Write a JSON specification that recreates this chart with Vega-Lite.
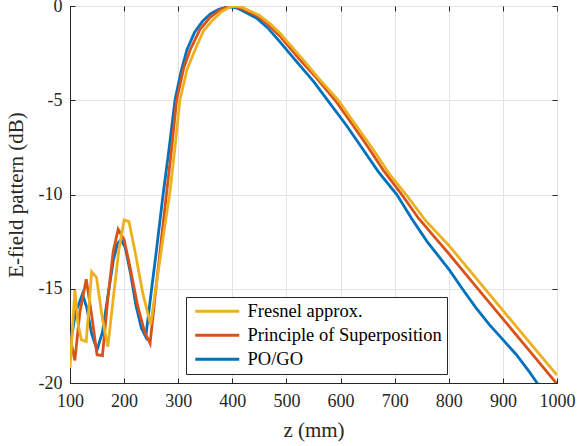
{
  "$schema": "https://vega.github.io/schema/vega-lite/v6.json",
  "width": 487,
  "height": 377,
  "autosize": {"type": "none"},
  "padding": {"left": 70, "top": 6, "right": 22, "bottom": 63},
  "background": "white",
  "config": {
    "view": {"stroke": "#262626", "strokeWidth": 1},
    "font": "Times New Roman",
    "axis": {
      "labelFont": "Times New Roman",
      "titleFont": "Times New Roman",
      "labelFontSize": 18,
      "titleFontSize": 21,
      "titleFontWeight": "normal",
      "labelColor": "#262626",
      "titleColor": "#262626",
      "domainColor": "#262626",
      "tickColor": "#262626",
      "gridColor": "#e3e3e3",
      "gridWidth": 1,
      "labelFlush": false,
      "labelOverlap": false
    },
    "legend": {"labelFont": "Times New Roman"}
  },
  "resolve": {"axis": {"x": "independent", "y": "independent"}},
  "data": {
    "values": [
      {"series": "PO/GO", "z": 100, "v": -18.07},
      {"series": "PO/GO", "z": 110, "v": -16.3},
      {"series": "PO/GO", "z": 123, "v": -15.28},
      {"series": "PO/GO", "z": 131, "v": -16.0},
      {"series": "PO/GO", "z": 140, "v": -17.4},
      {"series": "PO/GO", "z": 150, "v": -18.25},
      {"series": "PO/GO", "z": 160, "v": -17.3},
      {"series": "PO/GO", "z": 170, "v": -15.4},
      {"series": "PO/GO", "z": 180, "v": -13.5},
      {"series": "PO/GO", "z": 188, "v": -12.6},
      {"series": "PO/GO", "z": 194, "v": -12.4},
      {"series": "PO/GO", "z": 202, "v": -12.8},
      {"series": "PO/GO", "z": 212, "v": -14.2},
      {"series": "PO/GO", "z": 222, "v": -15.9},
      {"series": "PO/GO", "z": 232, "v": -17.1},
      {"series": "PO/GO", "z": 240, "v": -17.55},
      {"series": "PO/GO", "z": 250, "v": -15.2},
      {"series": "PO/GO", "z": 260, "v": -12.9},
      {"series": "PO/GO", "z": 272, "v": -10.0},
      {"series": "PO/GO", "z": 283, "v": -7.6},
      {"series": "PO/GO", "z": 294, "v": -5.0},
      {"series": "PO/GO", "z": 305, "v": -3.5},
      {"series": "PO/GO", "z": 316, "v": -2.33},
      {"series": "PO/GO", "z": 330, "v": -1.4},
      {"series": "PO/GO", "z": 345, "v": -0.8},
      {"series": "PO/GO", "z": 360, "v": -0.4},
      {"series": "PO/GO", "z": 375, "v": -0.17},
      {"series": "PO/GO", "z": 390, "v": -0.06},
      {"series": "PO/GO", "z": 398, "v": -0.05},
      {"series": "PO/GO", "z": 410, "v": -0.12},
      {"series": "PO/GO", "z": 425, "v": -0.35},
      {"series": "PO/GO", "z": 445, "v": -0.65},
      {"series": "PO/GO", "z": 465, "v": -1.15},
      {"series": "PO/GO", "z": 488, "v": -1.9},
      {"series": "PO/GO", "z": 516, "v": -2.86},
      {"series": "PO/GO", "z": 550, "v": -4.0},
      {"series": "PO/GO", "z": 580, "v": -5.15},
      {"series": "PO/GO", "z": 610, "v": -6.3},
      {"series": "PO/GO", "z": 640, "v": -7.55},
      {"series": "PO/GO", "z": 670, "v": -8.8},
      {"series": "PO/GO", "z": 704, "v": -10.0},
      {"series": "PO/GO", "z": 731, "v": -11.26},
      {"series": "PO/GO", "z": 760, "v": -12.5},
      {"series": "PO/GO", "z": 801, "v": -14.0},
      {"series": "PO/GO", "z": 825, "v": -15.0},
      {"series": "PO/GO", "z": 850, "v": -16.0},
      {"series": "PO/GO", "z": 875, "v": -16.9},
      {"series": "PO/GO", "z": 900, "v": -17.7},
      {"series": "PO/GO", "z": 925, "v": -18.5},
      {"series": "PO/GO", "z": 950, "v": -19.45},
      {"series": "PO/GO", "z": 962, "v": -19.95},
      {"series": "PO/GO", "z": 975, "v": -20.5},
      {"series": "Principle of Superposition", "z": 100, "v": -17.6},
      {"series": "Principle of Superposition", "z": 109, "v": -18.8},
      {"series": "Principle of Superposition", "z": 118, "v": -16.3},
      {"series": "Principle of Superposition", "z": 130, "v": -14.5},
      {"series": "Principle of Superposition", "z": 140, "v": -16.4},
      {"series": "Principle of Superposition", "z": 150, "v": -18.5},
      {"series": "Principle of Superposition", "z": 160, "v": -18.55},
      {"series": "Principle of Superposition", "z": 170, "v": -15.5},
      {"series": "Principle of Superposition", "z": 180, "v": -13.0},
      {"series": "Principle of Superposition", "z": 189, "v": -11.85},
      {"series": "Principle of Superposition", "z": 200, "v": -12.4},
      {"series": "Principle of Superposition", "z": 212, "v": -14.0},
      {"series": "Principle of Superposition", "z": 225, "v": -15.9},
      {"series": "Principle of Superposition", "z": 238, "v": -17.3},
      {"series": "Principle of Superposition", "z": 248, "v": -17.9},
      {"series": "Principle of Superposition", "z": 258, "v": -15.2},
      {"series": "Principle of Superposition", "z": 268, "v": -12.6},
      {"series": "Principle of Superposition", "z": 279, "v": -9.8},
      {"series": "Principle of Superposition", "z": 288, "v": -7.5},
      {"series": "Principle of Superposition", "z": 297, "v": -5.0},
      {"series": "Principle of Superposition", "z": 310, "v": -3.3},
      {"series": "Principle of Superposition", "z": 322, "v": -2.33},
      {"series": "Principle of Superposition", "z": 340, "v": -1.25},
      {"series": "Principle of Superposition", "z": 359, "v": -0.6},
      {"series": "Principle of Superposition", "z": 375, "v": -0.25},
      {"series": "Principle of Superposition", "z": 390, "v": -0.06},
      {"series": "Principle of Superposition", "z": 402, "v": -0.02},
      {"series": "Principle of Superposition", "z": 415, "v": -0.1},
      {"series": "Principle of Superposition", "z": 430, "v": -0.3},
      {"series": "Principle of Superposition", "z": 448, "v": -0.55},
      {"series": "Principle of Superposition", "z": 465, "v": -0.95},
      {"series": "Principle of Superposition", "z": 488, "v": -1.6},
      {"series": "Principle of Superposition", "z": 525, "v": -2.86},
      {"series": "Principle of Superposition", "z": 555, "v": -3.8},
      {"series": "Principle of Superposition", "z": 590, "v": -5.0},
      {"series": "Principle of Superposition", "z": 620, "v": -6.2},
      {"series": "Principle of Superposition", "z": 650, "v": -7.45},
      {"series": "Principle of Superposition", "z": 680, "v": -8.75},
      {"series": "Principle of Superposition", "z": 713, "v": -10.0},
      {"series": "Principle of Superposition", "z": 744, "v": -11.26},
      {"series": "Principle of Superposition", "z": 775, "v": -12.3},
      {"series": "Principle of Superposition", "z": 801, "v": -13.17},
      {"series": "Principle of Superposition", "z": 850, "v": -14.87},
      {"series": "Principle of Superposition", "z": 900, "v": -16.6},
      {"series": "Principle of Superposition", "z": 950, "v": -18.32},
      {"series": "Principle of Superposition", "z": 1000, "v": -20.05},
      {"series": "Fresnel approx.", "z": 100, "v": -19.2},
      {"series": "Fresnel approx.", "z": 109, "v": -15.07},
      {"series": "Fresnel approx.", "z": 115, "v": -16.9},
      {"series": "Fresnel approx.", "z": 121, "v": -17.7},
      {"series": "Fresnel approx.", "z": 130, "v": -17.8},
      {"series": "Fresnel approx.", "z": 140, "v": -14.1},
      {"series": "Fresnel approx.", "z": 149, "v": -14.4},
      {"series": "Fresnel approx.", "z": 160, "v": -16.6},
      {"series": "Fresnel approx.", "z": 170, "v": -18.07},
      {"series": "Fresnel approx.", "z": 180, "v": -15.5},
      {"series": "Fresnel approx.", "z": 190, "v": -13.0},
      {"series": "Fresnel approx.", "z": 200, "v": -11.35},
      {"series": "Fresnel approx.", "z": 209, "v": -11.44},
      {"series": "Fresnel approx.", "z": 220, "v": -13.0},
      {"series": "Fresnel approx.", "z": 235, "v": -15.3},
      {"series": "Fresnel approx.", "z": 249, "v": -16.9},
      {"series": "Fresnel approx.", "z": 260, "v": -14.7},
      {"series": "Fresnel approx.", "z": 272, "v": -12.3},
      {"series": "Fresnel approx.", "z": 285, "v": -9.8},
      {"series": "Fresnel approx.", "z": 294, "v": -7.5},
      {"series": "Fresnel approx.", "z": 303, "v": -5.0},
      {"series": "Fresnel approx.", "z": 316, "v": -3.4},
      {"series": "Fresnel approx.", "z": 331, "v": -2.33},
      {"series": "Fresnel approx.", "z": 347, "v": -1.3},
      {"series": "Fresnel approx.", "z": 364, "v": -0.74},
      {"series": "Fresnel approx.", "z": 380, "v": -0.3},
      {"series": "Fresnel approx.", "z": 395, "v": -0.06},
      {"series": "Fresnel approx.", "z": 405, "v": -0.01},
      {"series": "Fresnel approx.", "z": 418, "v": -0.06},
      {"series": "Fresnel approx.", "z": 432, "v": -0.25},
      {"series": "Fresnel approx.", "z": 450, "v": -0.5},
      {"series": "Fresnel approx.", "z": 470, "v": -0.95},
      {"series": "Fresnel approx.", "z": 488, "v": -1.45},
      {"series": "Fresnel approx.", "z": 531, "v": -2.86},
      {"series": "Fresnel approx.", "z": 560, "v": -3.85},
      {"series": "Fresnel approx.", "z": 596, "v": -5.0},
      {"series": "Fresnel approx.", "z": 630, "v": -6.4},
      {"series": "Fresnel approx.", "z": 660, "v": -7.6},
      {"series": "Fresnel approx.", "z": 690, "v": -8.9},
      {"series": "Fresnel approx.", "z": 721, "v": -10.0},
      {"series": "Fresnel approx.", "z": 756, "v": -11.35},
      {"series": "Fresnel approx.", "z": 801, "v": -12.73},
      {"series": "Fresnel approx.", "z": 850, "v": -14.42},
      {"series": "Fresnel approx.", "z": 900, "v": -16.15},
      {"series": "Fresnel approx.", "z": 950, "v": -17.87},
      {"series": "Fresnel approx.", "z": 1000, "v": -19.58}
    ]
  },
  "layer": [
    {
      "mark": {"type": "line", "strokeWidth": 2.8, "clip": true},
      "encoding": {
        "x": {
          "field": "z", "type": "quantitative",
          "scale": {"domain": [100, 1000], "nice": false},
          "axis": {
            "values": [100, 200, 300, 400, 500, 600, 700, 800, 900, 1000],
            "labelExpr": "toString(datum.value)",
            "labelFont": "Times New Roman",
            "title": "z (mm)", "tickSize": -5, "labelPadding": 14,
            "titleX": 243.5, "titleY": 47, "titleBaseline": "middle"
          }
        },
        "y": {
          "field": "v", "type": "quantitative",
          "scale": {"domain": [-20, 0], "nice": false},
          "axis": {
            "values": [-20, -15, -10, -5, 0],
            "labelExpr": "toString(datum.value)",
            "labelFont": "Times New Roman",
            "title": "E-field pattern (dB)", "tickSize": -5, "labelPadding": 13,
            "titleX": -54, "titleY": 188.5, "titleBaseline": "middle", "titleAlign": "center", "titleAngle": -90
          }
        },
        "color": {
          "field": "series", "type": "nominal",
          "scale": {
            "domain": ["Fresnel approx.", "Principle of Superposition", "PO/GO"],
            "range": ["#EDB120", "#D95319", "#0072BD"]
          },
          "legend": {
            "title": null,
            "orient": "none",
            "legendX": 116,
            "legendY": 291,
            "direction": "vertical",
            "strokeColor": "#262626",
            "fillColor": "white",
            "padding": 5,
            "symbolType": "M-1,0H7.8",
            "symbolSize": 100,
            "symbolStrokeWidth": 2.8,
            "labelOffset": 38,
            "labelFont": "Times New Roman",
            "labelFontSize": 18.5,
            "labelColor": "#000000",
            "labelLimit": 400,
            "rowPadding": 5
          }
        }
      }
    },
    {
      "mark": {"type": "line", "strokeOpacity": 0, "clip": true},
      "encoding": {
        "x": {
          "field": "z", "type": "quantitative",
          "axis": {
            "orient": "top", "values": [100, 200, 300, 400, 500, 600, 700, 800, 900, 1000],
            "labels": false, "title": null, "grid": false, "domain": false, "tickSize": -5
          }
        },
        "y": {
          "field": "v", "type": "quantitative",
          "axis": {
            "orient": "right", "values": [-20, -15, -10, -5, 0],
            "labels": false, "title": null, "grid": false, "domain": false, "tickSize": -5
          }
        }
      }
    }
  ]
}
